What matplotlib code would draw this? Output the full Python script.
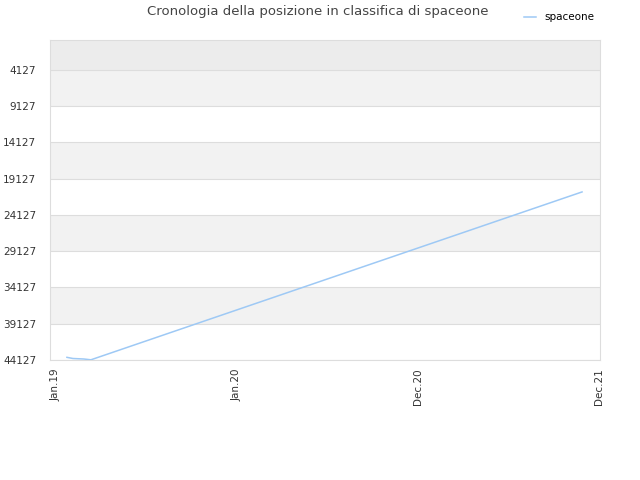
import pandas as pd
import matplotlib
matplotlib.use('Agg')
from matplotlib import pyplot as plt

# data
dates = pd.to_datetime(['2019-01-26', '2019-02-07', '2019-03-01', '2019-03-15', '2021-11-24'])
rank = [43760, 43920, 43990, 44100, 20950]
ytick_vals = [4127, 9127, 14127, 19127, 24127, 29127, 34127, 39127, 44127]
xtick_dates = pd.to_datetime(['2019-01-04', '2020-01-02', '2020-12-30', '2021-12-28'])
xtick_labels = ['Jan.19', 'Jan.20', 'Dec.20', 'Dec.21']

fig = plt.figure(figsize=(6.4, 4.8), dpi=100)
ax = fig.add_axes([50/640, 1-360/480, 550/640, 320/480])

# shaded bands
ax.axhspan(0, 4127, color='#ececec', lw=0, zorder=0)
for i in range(0, len(ytick_vals) - 1, 2):
    ax.axhspan(ytick_vals[i], ytick_vals[i+1], color='#f2f2f2', lw=0, zorder=0)

ax.plot(dates, rank, color='#9ec9f5', lw=1.1, label='spaceone', zorder=3)

ax.set_ylim(44127, 0)
ax.set_xlim(pd.Timestamp('2018-12-23'), pd.Timestamp('2021-12-30'))
ax.set_yticks(ytick_vals)
ax.set_yticklabels([str(v) for v in ytick_vals], fontsize=7.5, color='#333333')
ax.set_xticks(xtick_dates)
ax.set_xticklabels(xtick_labels, rotation=90, fontsize=7.5, color='#333333')
ax.tick_params(axis='y', length=0, pad=10)
ax.tick_params(axis='x', length=0, pad=6)
ax.grid(True, axis='y', color='#dddddd', lw=0.8, zorder=1)
for s in ax.spines.values():
    s.set_color('#dddddd')

fig.text(318/640, 1-12/480, 'Cronologia della posizione in classifica di spaceone',
         ha='center', va='center', fontsize=9.5, color='#444444')
ax.legend(loc='upper right', bbox_to_anchor=(604/640, 1-3/480), bbox_transform=fig.transFigure,
          frameon=False, fontsize=7.5, handlelength=1.2)

fig.savefig('out.png', dpi=100)
